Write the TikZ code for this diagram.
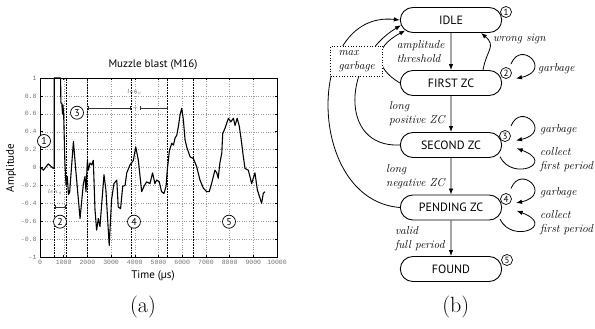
\documentclass[tikz,border=0pt]{standalone}
\usepackage{fontspec}
\setsansfont{PT Sans}
\setmonofont{Liberation Mono}
\usetikzlibrary{shapes.misc,arrows.meta}
\begin{document}
\begin{tikzpicture}[x=1pt,y=1pt,
  state/.style={draw,rounded rectangle,line width=0.9pt,minimum width=108pt,minimum height=25pt,font=\sffamily\fontsize{12}{12}\selectfont},
  num/.style={draw,circle,fill=white,inner sep=0pt,minimum size=11pt,line width=0.7pt,font=\sffamily\fontsize{9}{9}\selectfont},
  plotnum/.style={num,minimum size=13pt,font=\sffamily\fontsize{10}{10}\selectfont},
  lbl/.style={font=\itshape\fontsize{11.5}{14}\selectfont,align=left,inner sep=0pt},
  trans/.style={-{Latex[length=6pt,width=4.5pt]},line width=0.8pt},
  ticklbl/.style={font=\ttfamily\fontsize{6.5}{6.5}\selectfont,text=black!55},
  lenbar/.style={{Bar[width=4pt]}-{Bar[width=4pt]},line width=0.6pt,black!80},
  lenlbl/.style={font=\fontsize{6}{6}\selectfont,text=black!60,inner sep=0pt},
  axlbl/.style={font=\sffamily\fontsize{11}{11}\selectfont}]
\useasboundingbox (0,0) rectangle (595,-329);

\begin{scope}[shift={(40,-167.5)},x=23.7pt,y=89.5pt]
\foreach \t in {1,...,9}
  \draw[black!40,dotted] (\t,-1) -- (\t,1);
\foreach \a in {-0.8,-0.6,-0.4,-0.2,0,0.2,0.4,0.6,0.8}
  \draw[black!40,dotted] (0,\a) -- (10,\a);
\foreach \t in {0.6,1.1,2,3.84,5.38,6.45}
  \draw[densely dotted,line width=0.6pt] (\t,-1) -- (\t,1);
\draw[line width=1.1pt,line join=round] (0,0.01) -- (0.14,-0.03) -- (0.35,0.04) -- (0.56,-0.01) -- (0.6,0) -- (0.6,1) -- (0.87,1) -- (0.88,0.72) -- (0.92,0.72) -- (0.95,0.6) -- (0.97,0.7) -- (1.0,0.58) -- (1.05,0.05) -- (1.1,-0.2) -- (1.15,-0.1) -- (1.2,-0.3) -- (1.25,-0.28) -- (1.41,0.29) -- (1.5,0.0) -- (1.69,-0.57) -- (1.83,-0.18) -- (1.9,-0.1) -- (1.94,-0.27) -- (2.0,0.08) -- (2.04,-0.03) -- (2.11,0.05) -- (2.18,0.03) -- (2.25,0.08) -- (2.32,-0.47) -- (2.39,-0.7) -- (2.46,-0.57) -- (2.53,-0.66) -- (2.7,-0.08) -- (2.78,-0.25) -- (2.92,-0.87) -- (3.02,-0.36) -- (3.12,-0.18) -- (3.24,-0.14) -- (3.3,-0.44) -- (3.4,-0.46) -- (3.49,-0.21) -- (3.59,-0.2) -- (3.66,-0.06) -- (3.8,0.03) -- (3.94,0.08) -- (4.04,0.23) -- (4.15,0.08) -- (4.29,-0.27) -- (4.39,-0.21) -- (4.5,-0.16) -- (4.64,-0.18) -- (4.75,-0.06) -- (4.85,-0.18) -- (4.92,-0.14) -- (5.03,-0.16) -- (5.13,-0.27) -- (5.23,-0.29) -- (5.32,-0.21) -- (5.37,-0.03) -- (5.46,0.19) -- (5.56,0.27) -- (5.63,0.25) -- (5.7,0.33) -- (5.77,0.36) -- (5.84,0.46) -- (5.91,0.59) -- (5.98,0.66) -- (6.05,0.53) -- (6.12,0.31) -- (6.19,0.23) -- (6.33,0.12) -- (6.47,0.1) -- (6.61,0.01) -- (6.75,-0.14) -- (6.89,-0.23) -- (7.03,-0.27) -- (7.14,-0.27) -- (7.24,-0.18) -- (7.38,-0.03) -- (7.46,-0.06) -- (7.52,-0.12) -- (7.59,0.05) -- (7.67,0.16) -- (7.71,0.38) -- (7.81,0.44) -- (7.95,0.55) -- (8.05,0.51) -- (8.16,0.55) -- (8.23,0.47) -- (8.32,0.55) -- (8.41,0.46) -- (8.51,0.27) -- (8.58,0.12) -- (8.65,-0.01) -- (8.79,-0.03) -- (8.93,-0.18) -- (9.07,-0.06) -- (9.17,-0.25) -- (9.28,-0.34) -- (9.35,-0.4) -- (9.42,-0.29) -- (9.49,-0.27);
\draw[line width=0.9pt] (0,-1) rectangle (10,1);
\foreach \t in {0,...,10} {
  \draw[line width=0.5pt] (\t,-1) -- ++(0,2.5pt) (\t,1) -- ++(0,-2.5pt);
  \node[ticklbl,below] at (\t,-1) {\number\numexpr\t*1000\relax};
}
\foreach \a in {-1,-0.8,-0.6,-0.4,-0.2,0,0.2,0.4,0.6,0.8,1} {
  \draw[line width=0.5pt] (0,\a) -- ++(2.5pt,0) (10,\a) -- ++(-2.5pt,0);
  \node[ticklbl,left] at (0,\a) {\a};
}
\end{scope}

\node[axlbl] (title) at (153,-65) {Muzzle blast (M16)};
\node[axlbl] (xlabel) at (153,-276) {Time (µs)};
\node[axlbl,rotate=90] (ylabel) at (11,-168) {Amplitude};

\draw[lenbar] (54.5,-207) -- (66,-207);
\node[lenlbl] (lens) at (55,-192) {$len_s$};
\draw[lenbar] (88,-108) -- (131,-108);
\draw[lenbar] (140,-108) -- (167.5,-108);
\node[lenlbl] (plus) at (135.5,-108) {+};
\node[lenlbl] (lenc) at (134.5,-92) {$len_c$};

\node[plotnum] (p1) at (44,-141) {1};
\node[plotnum] (p2) at (60,-221.7) {2};
\node[plotnum] (p3) at (77,-112.7) {3};
\node[plotnum] (p4) at (134,-221.7) {4};
\node[plotnum] (p5) at (229,-221.7) {5};

\node[state] (idle) at (451,-20) {IDLE};
\node[state] (firstzc) at (451,-83) {FIRST ZC};
\node[state] (secondzc) at (451,-145) {SECOND ZC};
\node[state] (pendingzc) at (451,-207.5) {PENDING ZC};
\node[state] (found) at (451,-269) {FOUND};

\draw[trans] (idle) -- (firstzc) node[lbl,left,midway,xshift=-6pt] {amplitude\\threshold};
\draw[trans] (firstzc) -- (secondzc) node[lbl,left,midway,xshift=-6pt] {long\\positive ZC};
\draw[trans] (secondzc) -- (pendingzc) node[lbl,left,midway,xshift=-6pt] {long\\negative ZC};
\draw[trans] (pendingzc) -- (found) node[lbl,left,midway,xshift=-6pt] {valid\\full period};

\draw[trans] ([xshift=32pt]firstzc.north) to[out=80,in=-40,looseness=1.4] ([xshift=30pt]idle.south);
\node[lbl,anchor=west] (wrongsign) at (493,-39) {wrong sign};

\draw[trans] ([shift={(60,19)}]firstzc.center) .. controls +(10,25) and +(37,8) .. ([shift={(65,4.5)}]firstzc.center);
\node[lbl,anchor=west] (garb1) at (538,-69) {garbage};

\draw[trans] ([shift={(60,19)}]secondzc.center) .. controls +(10,25) and +(37,8) .. ([shift={(65,4.5)}]secondzc.center);
\draw[trans] ([shift={(49,-11.7)}]secondzc.center) .. controls +(12,-25) and +(40,-15) .. ([shift={(65.7,-3.3)}]secondzc.center);
\node[lbl,anchor=west] (garb2) at (540,-130) {garbage};
\node[lbl,anchor=west] (coll2) at (540,-160) {collect\\first period};

\draw[trans] ([shift={(60,19)}]pendingzc.center) .. controls +(10,25) and +(37,8) .. ([shift={(65,4.5)}]pendingzc.center);
\draw[trans] ([shift={(49,-11.7)}]pendingzc.center) .. controls +(12,-25) and +(40,-15) .. ([shift={(65.7,-3.3)}]pendingzc.center);
\node[lbl,anchor=west] (garb3) at (540,-192.5) {garbage};
\node[lbl,anchor=west] (coll3) at (540,-222.5) {collect\\first period};

\draw[trans] (pendingzc.west) .. controls (305,-200) and (305,-10) .. (idle.west);
\draw[trans] (secondzc.west) .. controls (338,-148) and (343,-60) .. (idle.186);
\draw[trans] (firstzc.west) .. controls (375,-68) and (372,-48) .. (idle.193);
\node[lbl,draw,dotted,line width=0.7pt,fill=white,minimum width=52pt,minimum height=30pt] (maxgarbage) at (356.7,-61) {max\\garbage};

\node[num] (n1) at ([shift={(55,8)}]idle.center) {1};
\node[num] (n2) at ([shift={(55,10)}]firstzc.center) {2};
\node[num] (n3) at ([shift={(54,9)}]secondzc.center) {3};
\node[num] (n4) at ([shift={(55,8.5)}]pendingzc.center) {4};
\node[num] (n5) at ([shift={(56,9)}]found.center) {5};

\node[font=\fontsize{22}{22}\selectfont] (capa) at (143,-307) {(a)};
\node[font=\fontsize{22}{22}\selectfont] (capb) at (455.7,-307) {(b)};
\end{tikzpicture}
\end{document}
